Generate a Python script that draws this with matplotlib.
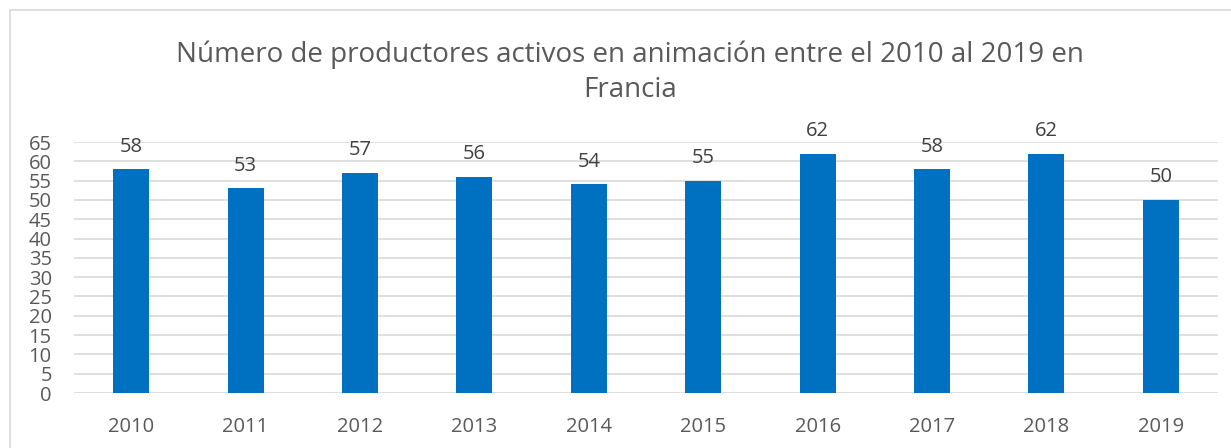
import matplotlib
matplotlib.use("Agg")
import matplotlib.pyplot as plt
from matplotlib.lines import Line2D

years = ["2010", "2011", "2012", "2013", "2014", "2015", "2016", "2017", "2018", "2019"]
productores = [58, 53, 57, 56, 54, 55, 62, 58, 62, 50]
yticks = list(range(0, 66, 5))

plt.rcParams['font.family'] = ['Open Sans', 'DejaVu Sans']
txt = '#595959'

W, H = 1231, 448
fig = plt.figure(figsize=(W / 100, H / 100), dpi=100)
ax = fig.add_axes([74 / W, 1 - 393 / H, (1218 - 74) / W, (393 - 142) / H])

x = list(range(len(years)))
bars = ax.bar(x, productores, width=0.315, color='#0070C0', zorder=3)
for xi, v in zip(x, productores):
    ax.annotate(str(v), (xi, v), xytext=(0, 9), textcoords='offset points',
                ha='center', va='bottom', fontsize=14.5, color='#404040')

ax.set_xlim(-0.5, len(years) - 0.5)
ax.set_ylim(0, 65)
ax.set_yticks(yticks)
ax.set_xticks(x)
ax.set_xticklabels(years)
ax.yaxis.grid(True, color='#D9D9D9', linewidth=1.2, zorder=0)
ax.tick_params(axis='both', length=0, labelsize=14.5, colors=txt)
ax.tick_params(axis='y', pad=16)
ax.tick_params(axis='x', pad=17)
for s in ax.spines.values():
    s.set_visible(False)

fig.text(630 / W, 1 - 72 / H, "Número de productores activos en animación entre el 2010 al 2019 en\nFrancia",
         ha='center', va='center', fontsize=20, color=txt, linespacing=1.35)

fig.add_artist(Line2D([10 / W, 1], [1 - 10 / H, 1 - 10 / H], transform=fig.transFigure, color='#D9D9D9', lw=1.2))
fig.add_artist(Line2D([10 / W, 10 / W], [0, 1 - 10 / H], transform=fig.transFigure, color='#D9D9D9', lw=1.2))

fig.savefig("out.png", dpi=100, facecolor='white')
